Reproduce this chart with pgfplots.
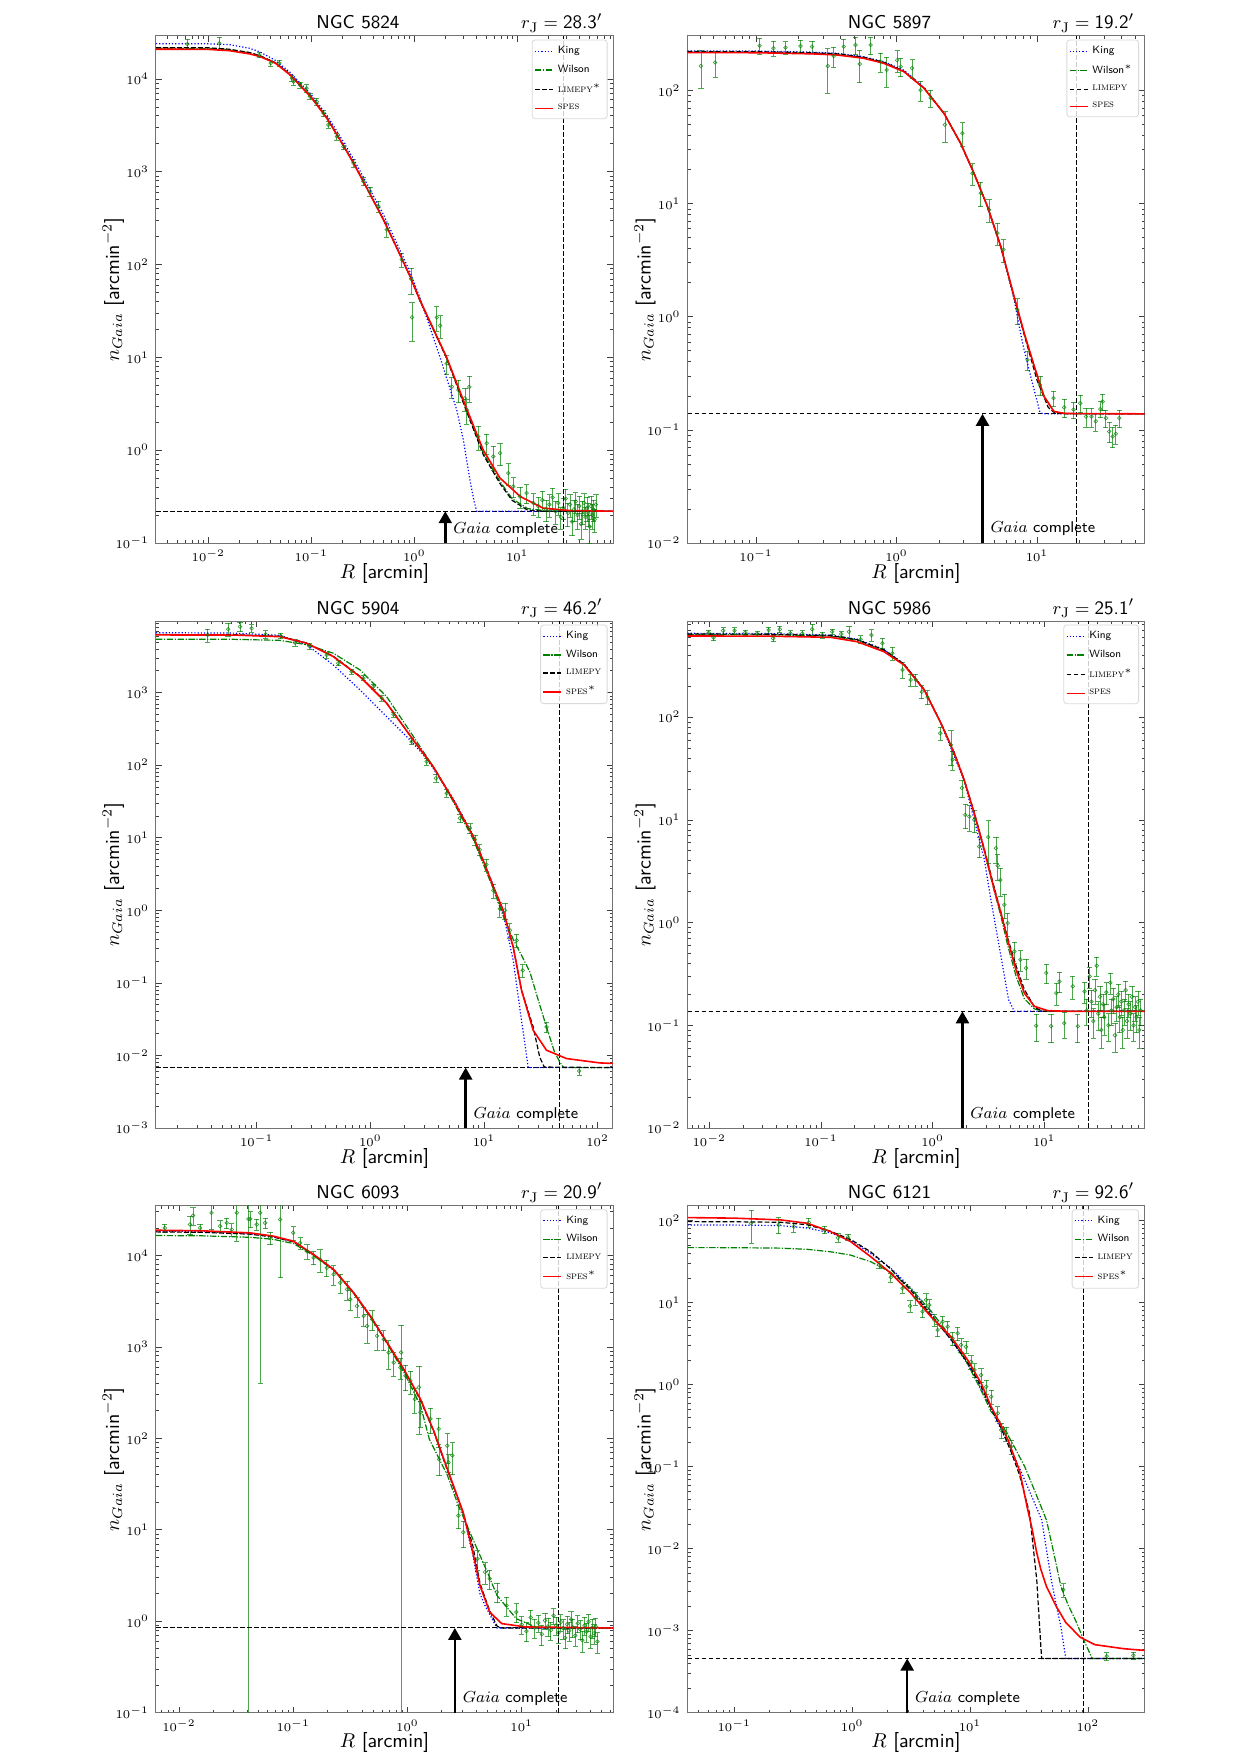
\documentclass[border=0pt]{standalone}
\usepackage{pgfplots}
\pgfplotsset{compat=1.18}
\usetikzlibrary{arrows.meta}
\definecolor{mplg}{RGB}{0,128,0}
\definecolor{mplb}{RGB}{0,0,255}
\definecolor{mplr}{RGB}{255,0,0}
\pgfplotsset{
 every axis/.append style={scale only axis, width=228.5pt, height=253.5pt, xmode=log, ymode=log,
   tick align=inside, major tick length=2.8pt, minor tick length=1.5pt,
   every tick/.style={black!75,line width=0.35pt}, axis line style={black!55,line width=0.5pt},
   tick label style={font=\fontsize{6}{7}\selectfont},
   legend style={at={(0.988,0.993)}, anchor=north east, font=\fontsize{5.3}{6.3}\selectfont,
     draw=black!15, rounded corners=1.5pt, fill=white, fill opacity=0.8, text opacity=1,
     inner sep=1pt, row sep=0.3pt},
   legend cell align=left,
   unbounded coords=jump},
 legend image code/.code={\draw[#1] (0pt,0pt) -- (9pt,0pt);},
 dat/.style={only marks, mark=o, mark size=0.9pt, mplg, draw opacity=0.75,
   mark options={line width=0.35pt}, forget plot,
   error bars/.cd, y dir=both, y explicit,
   error bar style={line width=0.4pt, mplg, draw opacity=0.7},
   error mark options={rotate=90, mark size=1.3pt, line width=0.4pt, mplg, draw opacity=0.7}},
 king/.style={mplb, line width=0.6pt, dash pattern=on 0.6pt off 1pt},
 wil/.style={mplg, line width=0.6pt, dash pattern=on 3.2pt off 0.8pt on 0.6pt off 0.8pt},
 lim/.style={black, line width=0.6pt, dash pattern=on 2.4pt off 1.1pt},
 spes/.style={mplr, line width=0.8pt},
 bgl/.style={black, line width=0.5pt, dash pattern=on 2.4pt off 1.1pt, forget plot},
}
\newcommand{\gaiacomp}[3]{%
 \draw[-{Triangle[width=6.5pt,length=6pt]}, line width=1.2pt] (axis cs:#1,#2) -- (axis cs:#1,#3);
 \node[anchor=base west, inner sep=0pt, font=\fontsize{7.8}{9}\selectfont, xshift=3.8pt, yshift=5pt] at (axis cs:#1,#2) {$Gaia$ \textsf{complete}};}
\begin{document}
\begin{tikzpicture}
\path (0,0) rectangle (620.5pt,-877pt);
% ---------------- NGC 5824
\begin{axis}[at={(78pt,-18pt)}, anchor=north west, xmin=0.0031, xmax=85, ymin=0.1, ymax=29000]
\addplot[dat] coordinates {
(0.00625,23800) +- (0,3000) (0.0128,24200) +- (0,4000) (0.0313,18100) +- (0,1200)
(0.0403,14800) +- (0,1000) (0.049,14800) +- (0,1200) (0.0646,10200) +- (0,800)
(0.067,9350) +- (0,800) (0.0776,8600) +- (0,600) (0.09,7940) +- (0,700)
(0.097,6460) +- (0,500) (0.113,5700) +- (0,500) (0.131,4280) +- (0,350)
(0.146,3200) +- (0,250) (0.177,2400) +- (0,200) (0.205,1870) +- (0,150)
(0.256,1240) +- (0,120) (0.32,787) +- (0,80) (0.372,614) +- (0,70)
(0.447,424) +- (0,60) (0.54,238) +- (0,40) (0.755,113) +- (0,20)
(0.93,70) +- (0,22) (0.95,27) +- (0,12) (1.65,27) +- (0,8) (1.78,22) +- (0,6)
(2.06,8.6) +- (0,2) (2.31,4.83) +- (0,1.2) (2.68,4.45) +- (0,1.2) (3.1,3.62) +- (0,1.0)
(3.42,4.8) +- (0,1.5) (3.23,2.71) +- (0,0.8) (4.18,1.4) +- (0,0.4) (5.04,1.19) +- (0,0.3)
(5.85,0.853) +- (0,0.25) (6.79,0.929) +- (0,0.25) (8.18,0.566) +- (0,0.15)
(9.15,0.407) +- (0,0.1) (10.6,0.317) +- (0,0.08) (12.3,0.345) +- (0,0.08)
(14.3,0.27) +- (0,0.07) (16.0,0.25) +- (0,0.06) (17.5,0.29) +- (0,0.07)
(19.0,0.23) +- (0,0.06) (20.5,0.26) +- (0,0.07) (22.0,0.31) +- (0,0.08)
(23.5,0.22) +- (0,0.06) (25.0,0.27) +- (0,0.07) (26.5,0.19) +- (0,0.05)
(28.0,0.24) +- (0,0.06) (29.5,0.30) +- (0,0.08) (31.0,0.21) +- (0,0.06)
(32.5,0.26) +- (0,0.07) (34.0,0.17) +- (0,0.05) (35.5,0.23) +- (0,0.06)
(37.0,0.28) +- (0,0.07) (38.5,0.20) +- (0,0.06) (40.0,0.25) +- (0,0.07)
(41.5,0.16) +- (0,0.05) (43.0,0.22) +- (0,0.06) (44.5,0.27) +- (0,0.07)
(46.0,0.19) +- (0,0.05) (47.5,0.24) +- (0,0.07) (49.0,0.21) +- (0,0.06)
(50.5,0.15) +- (0,0.05) (52.0,0.25) +- (0,0.07) (53.5,0.20) +- (0,0.06)
(55.0,0.23) +- (0,0.06) (56.5,0.18) +- (0,0.05) (58.0,0.26) +- (0,0.07)};
\addplot[bgl] coordinates {(0.0031,0.22) (85,0.22)};
\addplot[bgl] coordinates {(28.3,0.1) (28.3,29000)};
\addplot[king] coordinates {(0.0031,23990) (0.01,23880) (0.01585,23440) (0.0251,21380) (0.0318,19500) (0.0447,15850) (0.0622,11750) (0.1,6761) (0.1413,4074) (0.1905,2399) (0.256,1380) (0.3548,708) (0.5,347) (0.676,170) (0.908,83.2) (1.135,43.7) (1.778,10) (2.582,2.71) (2.992,1.29) (3.467,0.479) (3.802,0.282) (4.036,0.22) (85,0.22)};
\addlegendentry{\textsf{King}}
\addplot[wil] coordinates {(0.0031,21380) (0.01,21300) (0.01585,20700) (0.0251,19100) (0.0318,17600) (0.0447,14900) (0.0622,11200) (0.1,6400) (0.1413,3850) (0.1905,2220) (0.256,1270) (0.3548,635) (0.5,310) (0.676,152) (0.908,75) (1.135,41) (2.06,9.9) (3.162,2.85) (4.677,0.93) (6.79,0.46) (8.913,0.30) (12.59,0.235) (19.95,0.221) (85,0.22)};
\addlegendentry{\textsf{Wilson}}
\addplot[lim] coordinates {(0.0031,21730) (0.01,21630) (0.01585,20890) (0.0251,19280) (0.0318,17780) (0.0447,14960) (0.0622,11220) (0.1,6310) (0.1413,3802) (0.1905,2188) (0.256,1259) (0.3548,631) (0.5,309) (0.676,151) (0.908,74.8) (1.135,40.7) (2.06,9.77) (3.162,2.75) (4.677,0.891) (6.79,0.437) (8.913,0.288) (12.59,0.226) (17.78,0.22) (85,0.22)};
\addlegendentry{\textsc{limepy}$^{*}$}
\addplot[spes] coordinates {(0.0031,20890) (0.01,20800) (0.01585,20180) (0.0251,18620) (0.0318,17380) (0.0447,14790) (0.0622,11040) (0.1,6310) (0.1413,3776) (0.1905,2188) (0.256,1242) (0.3548,631) (0.5,305) (0.676,151) (0.908,74.8) (1.135,41.3) (2.06,10) (3.162,2.95) (4.677,1.0) (6.79,0.501) (10.72,0.316) (17.78,0.238) (31.6,0.224) (85,0.22)};
\addlegendentry{\textsc{spes}}
\gaiacomp{2.0}{0.1}{0.22}
\end{axis}
% ---------------- NGC 5897
\begin{axis}[at={(343.75pt,-18pt)}, anchor=north west, xmin=0.0325, xmax=58.2, ymin=0.01, ymax=304]
\addplot[dat] coordinates {
(0.0405,165) +- (0,60) (0.0511,177) +- (0,45) (0.106,249) +- (0,40) (0.133,237) +- (0,35)
(0.162,240) +- (0,30) (0.207,248) +- (0,30) (0.25,245) +- (0,30) (0.324,165) +- (0,70)
(0.357,202) +- (0,40) (0.421,245) +- (0,40) (0.51,253) +- (0,45) (0.547,172) +- (0,55)
(0.653,253) +- (0,45) (0.77,180) +- (0,35) (0.85,152) +- (0,45) (1.01,186) +- (0,40)
(1.07,163) +- (0,30) (1.29,158) +- (0,30) (1.48,101) +- (0,20) (1.75,86) +- (0,15)
(2.21,50) +- (0,15) (2.94,42) +- (0,10) (3.47,18.6) +- (0,4) (3.98,12.4) +- (0,3)
(4.55,8.85) +- (0,2) (5.22,5.5) +- (0,1.2) (5.77,3.92) +- (0,0.9) (7.26,1.15) +- (0,0.3)
(8.55,0.416) +- (0,0.08) (10.5,0.25) +- (0,0.05) (13.1,0.191) +- (0,0.03)
(15.6,0.158) +- (0,0.03) (18.2,0.151) +- (0,0.025) (20.3,0.172) +- (0,0.03)
(22.3,0.131) +- (0,0.025) (24.4,0.131) +- (0,0.025) (26.2,0.119) +- (0,0.022)
(28.2,0.153) +- (0,0.025) (29.3,0.178) +- (0,0.03) (30.9,0.127) +- (0,0.022)
(32.6,0.097) +- (0,0.02) (34.5,0.0875) +- (0,0.018) (36.4,0.0925) +- (0,0.018)
(38.5,0.127) +- (0,0.022)};
\addplot[bgl] coordinates {(0.0325,0.1387) (58.2,0.1387)};
\addplot[bgl] coordinates {(19.2,0.01) (19.2,304)};
\addplot[king] coordinates {(0.0325,224.4) (0.1,223.9) (0.251,218.8) (0.378,213.8) (0.585,199.5) (0.813,179.9) (1.127,151.4) (1.567,107.2) (2.173,63.1) (2.858,33.9) (3.556,18.6) (4.436,9.55) (5.521,4.17) (6.871,1.413) (7.943,0.562) (9.333,0.251) (10.47,0.1445) (10.96,0.1387) (58.2,0.1387)};
\addlegendentry{\textsf{King}}
\addplot[wil] coordinates {(0.0325,218.8) (0.1,218.5) (0.251,213) (0.378,208.5) (0.585,195) (0.813,176) (1.127,148) (1.567,105) (2.173,63) (2.858,34.2) (3.556,18.6) (4.436,9.44) (5.521,4.17) (6.871,1.48) (8.11,0.70) (9.572,0.36) (11.22,0.20) (13.18,0.146) (15.85,0.139) (58.2,0.1387)};
\addlegendentry{\textsf{Wilson}$^{*}$}
\addplot[lim] coordinates {(0.0325,221.3) (0.1,221) (0.251,216.3) (0.378,211.3) (0.585,197.2) (0.813,177.8) (1.127,148.6) (1.567,105.4) (2.173,63.1) (2.858,34.2) (3.556,18.6) (4.436,9.44) (5.521,4.17) (6.871,1.479) (8.11,0.692) (10,0.275) (12.02,0.158) (13.49,0.1396) (58.2,0.1387)};
\addlegendentry{\textsc{limepy}}
\addplot[spes] coordinates {(0.0325,216.8) (0.1,216.3) (0.251,211.3) (0.378,206.5) (0.585,193.2) (0.813,174.2) (1.127,147.2) (1.567,105) (2.173,63.1) (2.858,34.2) (3.556,18.6) (4.436,9.44) (5.521,4.17) (6.871,1.507) (8.11,0.716) (9.572,0.363) (11.22,0.197) (13.18,0.1456) (15.85,0.1396) (58.2,0.1387)};
\addlegendentry{\textsc{spes}}
\gaiacomp{4.09}{0.01}{0.1387}
\end{axis}
% ---------------- NGC 5904
\begin{axis}[at={(78pt,-310.5pt)}, anchor=north west, xmin=0.013, xmax=136.5, ymin=0.001, ymax=9700]
\addplot[dat] coordinates {
(0.037,6240) +- (0,1300) (0.056,7470) +- (0,1500) (0.0713,8100) +- (0,1200) (0.0903,7700) +- (0,900)
(0.12,6370) +- (0,800) (0.163,6040) +- (0,500) (0.217,4890) +- (0,500) (0.29,4400) +- (0,400)
(0.413,3300) +- (0,300) (0.522,2540) +- (0,200) (0.685,1950) +- (0,150) (0.867,1580) +- (0,120)
(1.06,1210) +- (0,100) (1.26,838) +- (0,70) (1.6,500) +- (0,40) (2.31,211) +- (0,20)
(3.13,112) +- (0,12) (3.78,66) +- (0,8) (4.69,41) +- (0,5) (6.14,18.6) +- (0,2.5)
(7.52,13.6) +- (0,2) (8.32,9.4) +- (0,1.5) (9.2,6.84) +- (0,1.2) (10.5,4.26) +- (0,0.8)
(12.1,1.88) +- (0,0.4) (13.8,1.05) +- (0,0.25) (15.3,1.0) +- (0,0.25) (16.9,0.53) +- (0,0.12)
(19.4,0.386) +- (0,0.08) (21.9,0.149) +- (0,0.03) (35.5,0.0247) +- (0,0.004) (68.7,0.0061) +- (0,0.0008)};
\addplot[bgl] coordinates {(0.013,0.0068) (136.5,0.0068)};
\addplot[bgl] coordinates {(46.2,0.001) (46.2,9700)};
\addplot[king] coordinates {(0.013,6699) (0.0631,6607) (0.1603,6166) (0.2754,4571) (0.4721,2404) (0.811,1089) (1.39,467.7) (2.382,200.9) (3.162,120.2) (5.358,34.7) (8.035,10.7) (12.05,2.239) (14.76,0.8995) (18.07,0.2046) (21.38,0.03055) (23.44,0.01122) (24.49,0.0068) (136.5,0.0068)};
\addlegendentry{\textsf{King}}
\addplot[wil] coordinates {(0.013,5433) (0.0631,5420) (0.1603,5248) (0.2754,4571) (0.4721,3491) (0.811,2056) (1.39,881) (2.382,251) (3.573,95.5) (5.358,31.6) (8.035,9.55) (12.05,1.995) (14.76,0.832) (18.07,0.398) (21.38,0.240) (25.35,0.1413) (30.2,0.0562) (35.48,0.0247) (41.69,0.01122) (46.45,0.00813) (50.1,0.0068) (136.5,0.0068)};
\addlegendentry{\textsf{Wilson}}
\addplot[lim] coordinates {(0.013,6310) (0.0631,6280) (0.1603,5970) (0.2754,4840) (0.4721,3170) (0.811,1680) (1.39,720) (2.382,224) (3.573,95.5) (5.358,33.3) (8.035,10.4) (10,4.57) (12.05,2.14) (14.76,1.0) (18.07,0.3126) (21.38,0.0794) (27.1,0.0247) (30.9,0.00955) (33.88,0.00692) (136.5,0.0068)};
\addlegendentry{\textsc{limepy}}
\addplot[spes] coordinates {(0.013,6237) (0.0631,6209) (0.1603,5902) (0.2754,4786) (0.4721,3133) (0.811,1660) (1.39,714.5) (2.382,223.4) (3.573,95.5) (5.358,33.3) (8.035,10.4) (10,4.57) (12.05,2.138) (14.76,1.0) (18.07,0.3126) (21.38,0.0794) (27.1,0.02223) (35.48,0.0118) (53.21,0.00906) (104.5,0.00789) (136.5,0.00776)};
\addlegendentry{\textsc{spes}$^{*}$}
\gaiacomp{6.9}{0.001}{0.0068}
\end{axis}
% ---------------- NGC 5986
\begin{axis}[at={(343.75pt,-310.5pt)}, anchor=north west, xmin=0.00638, xmax=79, ymin=0.01, ymax=865]
\addplot[dat] coordinates {
(0.00986,665) +- (0,40) (0.0109,596) +- (0,40) (0.0133,697) +- (0,50) (0.0168,697) +- (0,50)
(0.021,665) +- (0,40) (0.0268,646) +- (0,40) (0.034,707) +- (0,50) (0.0373,586) +- (0,40)
(0.0428,718) +- (0,50) (0.0533,656) +- (0,40) (0.068,656) +- (0,40) (0.0835,718) +- (0,90)
(0.103,631) +- (0,40) (0.126,681) +- (0,40) (0.152,646) +- (0,35) (0.178,681) +- (0,90)
(0.226,574) +- (0,50) (0.283,631) +- (0,80) (0.355,525) +- (0,60) (0.436,420) +- (0,60)
(0.537,289) +- (0,50) (0.637,231) +- (0,30) (0.706,231) +- (0,30) (0.8,177) +- (0,25)
(0.9,157) +- (0,25) (1.17,69.8) +- (0,10) (1.46,53.7) +- (0,20) (1.51,38.5) +- (0,8)
(1.83,20.5) +- (0,4) (1.96,11.2) +- (0,3) (2.13,10.8) +- (0,3) (2.36,10) +- (0,2.5)
(2.61,5.5) +- (0,1.2) (3.15,6.8) +- (0,3) (3.69,5.3) +- (0,1.5) (3.83,3.58) +- (0,1)
(4.04,2.6) +- (0,0.8) (4.39,1.49) +- (0,0.4) (4.7,0.99) +- (0,0.25) (5.4,0.525) +- (0,0.12)
(6.1,0.435) +- (0,0.1) (6.87,0.361) +- (0,0.08) (8.45,0.099) +- (0,0.03) (10.4,0.324) +- (0,0.07)
(11.5,0.098) +- (0,0.03) (12.8,0.206) +- (0,0.05) (13.7,0.268) +- (0,0.06) (15.1,0.105) +- (0,0.03)
(18.0,0.24) +- (0,0.06) (20,0.098) +- (0,0.03) (22.9,0.214) +- (0,0.05)
(24.0,0.14) +- (0,0.04) (25.5,0.30) +- (0,0.07) (26.5,0.17) +- (0,0.05) (27.5,0.11) +- (0,0.035)
(28.5,0.22) +- (0,0.06) (29.5,0.38) +- (0,0.08) (30.5,0.13) +- (0,0.04) (31.5,0.19) +- (0,0.05)
(32.5,0.09) +- (0,0.03) (33.5,0.16) +- (0,0.04) (34.5,0.12) +- (0,0.04) (36,0.21) +- (0,0.05)
(37.5,0.10) +- (0,0.03) (39,0.26) +- (0,0.06) (40,0.14) +- (0,0.04) (41.5,0.18) +- (0,0.05)
(43,0.08) +- (0,0.025) (44.5,0.15) +- (0,0.04) (46,0.20) +- (0,0.05) (47.5,0.12) +- (0,0.035)
(49,0.17) +- (0,0.045) (50.5,0.09) +- (0,0.03) (52,0.14) +- (0,0.04) (53.5,0.22) +- (0,0.05)
(55,0.11) +- (0,0.035) (57,0.16) +- (0,0.04) (59,0.13) +- (0,0.04) (61,0.19) +- (0,0.05)
(63,0.10) +- (0,0.03) (65,0.15) +- (0,0.04) (67,0.12) +- (0,0.035) (69,0.17) +- (0,0.045)
(71,0.09) +- (0,0.03) (73,0.14) +- (0,0.04)};
\addplot[bgl] coordinates {(0.00638,0.1368) (79,0.1368)};
\addplot[bgl] coordinates {(25.1,0.01) (25.1,865)};
\addplot[king] coordinates {(0.00638,656) (0.0316,654.6) (0.1219,631) (0.2118,575.4) (0.3673,457) (0.5546,331) (0.8395,186.2) (1.186,87.1) (1.919,24.0) (2.897,4.17) (3.327,1.671) (4.093,0.469) (4.786,0.1778) (5.395,0.1368) (79,0.1368)};
\addlegendentry{\textsf{King}}
\addplot[wil] coordinates {(0.00638,638) (0.0316,638) (0.1219,616.6) (0.2118,562.3) (0.3673,446.7) (0.5546,327.3) (0.8395,185.4) (1.186,87.7) (1.56,44.7) (1.919,24.3) (2.36,11.5) (2.897,5.01) (3.565,2.04) (4.093,1.148) (4.699,0.603) (5.585,0.302) (6.622,0.182) (8.147,0.1445) (10,0.1368) (79,0.1368)};
\addlegendentry{\textsf{Wilson}}
\addplot[lim] coordinates {(0.00638,645.7) (0.0316,644) (0.1219,623.7) (0.2118,568.9) (0.3673,451.9) (0.5546,328.9) (0.8395,186.2) (1.186,88.1) (1.56,45.2) (1.919,24.5) (2.36,11.75) (2.897,5.25) (3.565,2.188) (4.093,1.259) (4.699,0.708) (5.585,0.380) (6.622,0.224) (8.147,0.1514) (9.55,0.1368) (79,0.1368)};
\addlegendentry{\textsc{limepy}$^{*}$}
\addplot[spes] coordinates {(0.00638,618) (0.0316,616.6) (0.1219,600) (0.2118,543) (0.3673,434.5) (0.5546,322.8) (0.8395,184.5) (1.186,87.5) (1.56,44.7) (1.919,24.5) (2.36,11.64) (2.897,5.13) (3.565,2.089) (4.093,1.239) (4.699,0.682) (5.585,0.348) (6.622,0.2065) (8.147,0.1531) (10.74,0.139) (15.85,0.1368) (79,0.1368)};
\addlegendentry{\textsc{spes}}
\gaiacomp{1.85}{0.01}{0.1368}
\end{axis}
% ---------------- NGC 6093
\begin{axis}[at={(78pt,-602.85pt)}, anchor=north west, xmin=0.0063, xmax=63, ymin=0.1, ymax=35000]
\addplot[dat] coordinates {
(0.00753,20000) +- (0,2000) (0.0125,21800) +- (0,5000) (0.0133,27300) +- (0,6000) (0.0153,20000) +- (0,2000)
(0.0193,29200) +- (0,10000) (0.0229,20900) +- (0,3000) (0.0262,22700) +- (0,3000) (0.029,19200) +- (0,3000)
(0.0321,29300) +- (0,15000) (0.0406,25000) +- (0,24999.99) (0.042,25100) +- (0,5000) (0.048,21800) +- (0,3000)
(0.0514,29300) +- (0,28900) (0.0568,22700) +- (0,3000) (0.0628,15600) +- (0,2500) (0.0769,24700) +- (0,19000)
(0.1,17700) +- (0,3000) (0.115,13700) +- (0,2000) (0.132,11100) +- (0,2000) (0.151,9440) +- (0,1500)
(0.172,9040) +- (0,2500) (0.197,7340) +- (0,1500) (0.226,6210) +- (0,1500) (0.258,5040) +- (0,1200)
(0.296,4250) +- (0,1000) (0.316,3310) +- (0,800) (0.362,2800) +- (0,700) (0.414,2180) +- (0,500)
(0.443,1690) +- (0,600) (0.49,2000) +- (0,500) (0.542,1320) +- (0,400) (0.62,1210) +- (0,300)
(0.686,869) +- (0,300) (0.759,676) +- (0,200) (0.868,596) +- (0,150) (0.88,870) +- (0,869.99)
(0.96,483) +- (0,150) (1.06,426) +- (0,120) (1.16,269) +- (0,80) (1.26,361) +- (0,250) (1.3,193) +- (0,60)
(1.59,163) +- (0,50) (1.88,127) +- (0,40) (1.89,59) +- (0,20) (2.23,83) +- (0,30) (2.29,54.6) +- (0,12) (2.47,65) +- (0,25)
(2.79,14.3) +- (0,4) (3.08,9.4) +- (0,3) (4.11,4.82) +- (0,1.2) (4.77,3.45) +- (0,0.9) (5.25,2.92) +- (0,0.7)
(6.07,2.09) +- (0,0.5) (7.38,1.49) +- (0,0.35) (8.97,1.26) +- (0,0.3)
(10,0.92) +- (0,0.2) (11,0.78) +- (0,0.18) (12,1.1) +- (0,0.22)
(13,0.85) +- (0,0.2) (14,0.96) +- (0,0.2) (15,0.72) +- (0,0.18) (16,1.02) +- (0,0.2)
(17,0.88) +- (0,0.2) (18,0.80) +- (0,0.18) (19,1.15) +- (0,0.22) (20,0.90) +- (0,0.2)
(21,0.75) +- (0,0.18) (22,0.98) +- (0,0.2) (23,0.84) +- (0,0.2) (24,0.66) +- (0,0.16)
(25,0.93) +- (0,0.2) (26,0.79) +- (0,0.18) (27,1.05) +- (0,0.22) (28,0.86) +- (0,0.2)
(29.5,0.70) +- (0,0.17) (31,0.95) +- (0,0.2) (32.5,0.82) +- (0,0.19) (34,0.62) +- (0,0.16)
(35.5,0.90) +- (0,0.2) (37,0.77) +- (0,0.18) (38.5,0.99) +- (0,0.21) (40,0.68) +- (0,0.17)
(41.5,0.85) +- (0,0.2) (43,0.74) +- (0,0.18) (44.5,0.88) +- (0,0.2) (46,0.60) +- (0,0.15)};
\addplot[bgl] coordinates {(0.0063,0.845) (63,0.845)};
\addplot[bgl] coordinates {(20.9,0.1) (20.9,35000)};
\addplot[king] coordinates {(0.0063,18500) (0.01585,18300) (0.042,17300) (0.0671,16000) (0.1007,14200) (0.1507,10250) (0.2259,7050) (0.3381,3920) (0.4732,2180) (0.6637,1115) (0.929,570) (1.3,268) (1.702,120) (2.228,46) (3.076,15) (3.733,5.3) (4.315,2.0) (4.77,1.49) (6.07,0.845) (63,0.845)};
\addlegendentry{\textsf{King}}
\addplot[wil] coordinates {(0.0063,16520) (0.01585,16400) (0.042,15800) (0.0671,15000) (0.1007,13500) (0.1507,10000) (0.2259,6900) (0.3381,3850) (0.4732,2130) (0.6637,1090) (0.929,530) (1.3,230) (1.556,97.7) (2.228,40) (2.793,18.4) (3.733,7.94) (5.0,3.45) (6.07,1.92) (8.97,1.067) (13.2,0.867) (20,0.846) (63,0.845)};
\addlegendentry{\textsf{Wilson}}
\addplot[lim] coordinates {(0.0063,18110) (0.01585,17900) (0.042,17100) (0.0671,15900) (0.1007,14100) (0.1507,10200) (0.2259,7000) (0.3381,3900) (0.4732,2170) (0.6637,1110) (0.929,565) (1.3,262) (1.702,118) (2.228,45.5) (3.076,15.3) (3.733,6.73) (4.315,2.6) (5.248,1.3) (6.07,0.89) (6.5,0.845) (63,0.845)};
\addlegendentry{\textsc{limepy}}
\addplot[spes] coordinates {(0.0063,18880) (0.01585,18620) (0.042,17660) (0.0671,16260) (0.1007,14320) (0.1507,10260) (0.2259,7031) (0.3381,3917) (0.4732,2178) (0.6637,1117) (0.929,571.5) (1.3,269.2) (1.702,120) (2.228,46.8) (2.535,30.2) (3.076,15.5) (3.733,5.70) (4.315,2.455) (5.248,1.259) (6.699,0.942) (10.89,0.867) (63,0.845)};
\addlegendentry{\textsc{spes}$^{*}$}
\gaiacomp{2.6}{0.1}{0.845}
\end{axis}
% ---------------- NGC 6121
\begin{axis}[at={(343.75pt,-602.85pt)}, anchor=north west, xmin=0.0401, xmax=302, ymin=0.0001, ymax=152]
\addplot[dat] coordinates {
(0.139,93) +- (0,40) (0.238,89) +- (0,20) (0.32,84.5) +- (0,12) (0.429,94.6) +- (0,12)
(0.584,77) +- (0,8) (0.757,62) +- (0,7) (0.92,62.7) +- (0,6) (1.69,28.8) +- (0,3)
(2.13,20.4) +- (0,2.5) (2.67,15) +- (0,2) (3.1,9.12) +- (0,1.5) (3.47,11.3) +- (0,2)
(3.95,7.77) +- (0,1.2) (4.23,10.8) +- (0,2) (4.51,9.38) +- (0,1.5) (4.97,6.15) +- (0,1)
(5.31,4.64) +- (0,0.8) (5.86,5.86) +- (0,1) (6.46,5.09) +- (0,0.9) (7.12,3.68) +- (0,0.7)
(7.86,4.24) +- (0,0.8) (8.38,3.05) +- (0,0.6) (9.24,2.9) +- (0,0.5) (10.2,1.9) +- (0,0.35)
(10.9,1.51) +- (0,0.3) (12.4,1.31) +- (0,0.25) (13.7,0.946) +- (0,0.18) (15.1,0.714) +- (0,0.14)
(17.2,0.448) +- (0,0.09) (18.4,0.28) +- (0,0.06) (20.2,0.255) +- (0,0.05) (22.3,0.175) +- (0,0.035)
(61.7,0.00316) +- (0,0.0006) (144.5,0.00049) +- (0,0.00005) (243,0.0005) +- (0,0.00005)};
\addplot[bgl] coordinates {(0.0401,0.000457) (302,0.000457)};
\addplot[bgl] coordinates {(92.6,0.0001) (92.6,152)};
\addplot[king] coordinates {(0.0401,88.7) (0.1,88.3) (0.246,87.1) (0.4159,81.3) (0.6561,70.8) (0.9705,57.5) (1.435,39.8) (2.128,26.3) (3.148,15.1) (4.656,7.41) (6.887,3.548) (9.55,1.778) (12.42,0.891) (15.1,0.5) (18.37,0.282) (22.34,0.158) (26.9,0.0891) (33.1,0.0447) (40.55,0.0224) (48.9,0.00417) (55.0,0.00178) (59.0,0.00112) (64.9,0.000457) (302,0.000457)};
\addlegendentry{\textsf{King}}
\addplot[wil] coordinates {(0.0401,46.9) (0.1,46.8) (0.246,46.2) (0.4159,44.7) (0.6561,41.7) (0.9705,38.0) (1.435,31.6) (2.128,23.4) (3.148,14.8) (4.656,7.94) (6.887,3.80) (9.55,1.778) (12.42,0.85) (15.1,0.468) (18.37,0.339) (19.95,0.275) (23.99,0.17) (29.1,0.1) (35.48,0.0501) (44.46,0.0224) (51.3,0.00891) (59.0,0.00347) (67.6,0.00209) (78.3,0.00135) (94.6,0.000708) (108.9,0.000457) (302,0.000457)};
\addlegendentry{\textsf{Wilson}}
\addplot[lim] coordinates {(0.0401,97.3) (0.1,96.8) (0.246,95.5) (0.4159,89.1) (0.6561,74.1) (0.9705,58.9) (1.435,41.7) (2.128,25.7) (3.148,14.1) (4.656,7.08) (6.887,3.548) (9.55,1.862) (12.42,0.955) (15.1,0.513) (18.37,0.295) (22.34,0.151) (26.3,0.0794) (31.99,0.0269) (36.81,0.00417) (39.81,0.000661) (40.55,0.000457) (302,0.000457)};
\addlegendentry{\textsc{limepy}}
\addplot[spes] coordinates {(0.0401,108.9) (0.1,107.2) (0.246,102.1) (0.4159,92.9) (0.6561,73.5) (0.9705,55.5) (1.435,36.4) (2.128,22.8) (3.148,13.03) (4.656,6.745) (6.887,3.846) (9.55,2.0) (12.42,1.04) (15.1,0.5395) (18.37,0.316) (21.09,0.209) (22.34,0.166) (26.3,0.0891) (28.18,0.0562) (30.48,0.0324) (33.5,0.01778) (36.81,0.00891) (39.81,0.00562) (44.46,0.00347) (53.7,0.001995) (64.86,0.001259) (86.1,0.000832) (114.3,0.000676) (201.4,0.000603) (302,0.000575)};
\addlegendentry{\textsc{spes}$^{*}$}
\gaiacomp{2.93}{0.0001}{0.000457}
\end{axis}
% ---------------- titles and labels
\foreach \L/\T/\name/\rj in {78/18/5824/28.3, 343.75/18/5897/19.2, 78/310.5/5904/46.2, 343.75/310.5/5986/25.1, 78/602.85/6093/20.9, 343.75/602.85/6121/92.6}{
 \node[anchor=base, inner sep=0pt, font=\fontsize{9.3}{11}\selectfont] at ({(\L+101)*1pt},{-(\T-3.5)*1pt}) {\textsf{NGC \name}};
 \node[anchor=base east, inner sep=0pt, font=\fontsize{9.5}{11}\selectfont] at ({(\L+223.5)*1pt},{-(\T-3.5)*1pt}) {$r_{\mathrm{J}}=\textsf{\rj}'$};
 \node[anchor=base, inner sep=0pt, font=\fontsize{10}{12}\selectfont] at ({(\L+114.25)*1pt},{-(\T+271)*1pt}) {$R$ \textsf{[arcmin]}};
 \node[anchor=base, inner sep=0pt, rotate=90, font=\fontsize{10}{12}\selectfont] at ({(\L-18.5)*1pt},{-(\T+126.75)*1pt}) {$n_{Gaia}$ \textsf{[arcmin}$^{-2}$\textsf{]}};
}
\end{tikzpicture}
\end{document}
